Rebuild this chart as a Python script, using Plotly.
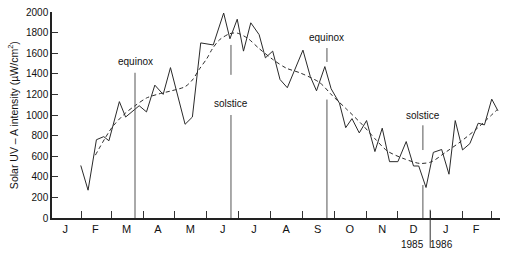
import plotly.graph_objects as go

# weekly measurements (solid line)
obs_dates = [
    "1985-01-31", "1985-02-07", "1985-02-15", "1985-02-22", "1985-02-27",
    "1985-03-09", "1985-03-15", "1985-03-28", "1985-04-04", "1985-04-12",
    "1985-04-20", "1985-04-27", "1985-05-11", "1985-05-18", "1985-05-26",
    "1985-06-07", "1985-06-17", "1985-06-23", "1985-06-30", "1985-07-06",
    "1985-07-13", "1985-07-21", "1985-07-27", "1985-08-03", "1985-08-10",
    "1985-08-17", "1985-09-01", "1985-09-08", "1985-09-14", "1985-09-22",
    "1985-09-28", "1985-10-06", "1985-10-12", "1985-10-18", "1985-10-25",
    "1985-11-01", "1985-11-09", "1985-11-16", "1985-11-23", "1985-12-01",
    "1985-12-09", "1985-12-16", "1985-12-21", "1985-12-28", "1986-01-04",
    "1986-01-12", "1986-01-19", "1986-01-25", "1986-02-01", "1986-02-08",
    "1986-02-16", "1986-02-22", "1986-03-01", "1986-03-07",
]
obs_values = [
    510, 270, 760, 790, 750,
    1130, 980, 1090, 1030, 1290,
    1200, 1460, 910, 980, 1700,
    1680, 1990, 1740, 1930, 1620,
    1895, 1780, 1555, 1620, 1345,
    1265, 1630, 1375, 1235, 1470,
    1255, 1115, 877, 965, 826,
    946, 645, 872, 547, 547,
    742, 505, 505, 296, 637,
    665, 425, 946, 661, 722,
    920, 904, 1154, 1040,
]

# smoothed trend (dashed line)
trend_dates = [
    "1985-02-14", "1985-03-02", "1985-03-15", "1985-03-24", "1985-04-04",
    "1985-04-16", "1985-04-28", "1985-05-11", "1985-05-18", "1985-05-25",
    "1985-06-01", "1985-06-06", "1985-06-13", "1985-06-23", "1985-06-30",
    "1985-07-10", "1985-07-21", "1985-08-03", "1985-08-16", "1985-08-29",
    "1985-09-17", "1985-09-29", "1985-10-13", "1985-10-28", "1985-11-09",
    "1985-11-21", "1985-12-07", "1985-12-22", "1986-01-02", "1986-01-16",
    "1986-01-30", "1986-02-15", "1986-03-06",
]
trend_values = [
    610, 880, 1020, 1090, 1165,
    1205, 1235, 1275, 1340, 1450,
    1550, 1640, 1730, 1790, 1795,
    1745, 1645, 1540, 1455, 1410,
    1315, 1190, 1055, 905, 770,
    650, 575, 530, 545, 640,
    740, 870, 1050,
]

month_label_dates = [
    "1985-01-16", "1985-02-14", "1985-03-16", "1985-04-15", "1985-05-16",
    "1985-06-16", "1985-07-16", "1985-08-16", "1985-09-15", "1985-10-16",
    "1985-11-16", "1985-12-16", "1986-01-16", "1986-02-14",
]
month_letters = ["J", "F", "M", "A", "M", "J", "J", "A", "S", "O", "N", "D", "J", "F"]

y_ticks = [0, 200, 400, 600, 800, 1000, 1200, 1400, 1600, 1800, 2000]

# events: date, label, label value, line segments as (top, bottom) values
event_dates = ["1985-03-24", "1985-06-24", "1985-09-24", "1985-12-25"]
event_labels = ["equinox", "solstice", "equinox", "solstice"]
event_label_values = [1520, 1110, 1750, 1000]
event_segments = [
    [(1410, 0)],
    [(1680, 1390), (1000, 0)],
    [(1650, 1515), (1150, 0)],
    [(900, 660), (320, 0)],
]

year_break = "1986-01-01"
year_labels = ["1985", "1986"]
year_label_dates = ["1985-12-15", "1986-01-12"]

ink = "#2a2a2a"
font_family = "Liberation Sans, Arial, sans-serif"

fig = go.Figure()
fig.add_trace(go.Scatter(x=trend_dates, y=trend_values, mode="lines",
                         line=dict(color=ink, width=1, dash="4px,3px", shape="spline", smoothing=0.8),
                         hoverinfo="skip"))
fig.add_trace(go.Scatter(x=obs_dates, y=obs_values, mode="lines",
                         line=dict(color=ink, width=1), hoverinfo="skip"))

shapes = []
annotations = []
for d, lab, lv, segs in zip(event_dates, event_labels, event_label_values, event_segments):
    for top, bot in segs:
        shapes.append(dict(type="line", xref="x", yref="y", x0=d, x1=d, y0=bot, y1=top,
                           line=dict(color="#555555", width=1)))
    annotations.append(dict(x=d, y=lv, xref="x", yref="y", text=lab, showarrow=False,
                            xanchor="center", yanchor="middle",
                            font=dict(size=10, color="#111111", family=font_family)))

shapes.append(dict(type="line", xref="x", yref="paper", x0=year_break, x1=year_break,
                   y0=0.04, y1=-0.145, line=dict(color="#333333", width=1)))
for d, t in zip(year_label_dates, year_labels):
    annotations.append(dict(x=d, y=-0.131, xref="x", yref="paper", text=t, showarrow=False,
                            xanchor="center", yanchor="middle",
                            font=dict(size=10, color="#111111", family=font_family)))

annotations.append(dict(x=-0.089, y=0.5, xref="paper", yref="paper",
                        text="Solar UV – A intensity (µW/cm<sup>2</sup>)", textangle=-90,
                        xanchor="center", yanchor="middle",
                        showarrow=False, font=dict(size=10.5, color="#111111", family=font_family)))

fig.update_layout(
    width=512, height=259,
    margin=dict(l=52, r=12, t=12, b=41, autoexpand=False),
    paper_bgcolor="white", plot_bgcolor="white",
    showlegend=False,
    shapes=shapes, annotations=annotations,
    xaxis=dict(range=["1985-01-03 10:00", "1986-03-08 22:00"], automargin=False,
               tickmode="array", tickvals=month_label_dates, ticktext=month_letters,
               ticks="", showgrid=False, zeroline=False,
               showline=True, linecolor="#222222", linewidth=1.5,
               tickfont=dict(size=11, color="#111111", family=font_family),
               minor=dict(dtick="M1", tick0="1985-01-01", ticks="inside", ticklen=7,
                          tickcolor="#333333", tickwidth=1, showgrid=False)),
    yaxis=dict(range=[0, 2000], tickmode="array", tickvals=y_ticks, automargin=False,
               ticks="inside", ticklen=6, tickcolor="#333333",
               showgrid=False, zeroline=False,
               showline=True, linecolor="#222222", linewidth=1.5,
               tickfont=dict(size=10, color="#111111", family=font_family)),
)

fig.write_html("out.html")
